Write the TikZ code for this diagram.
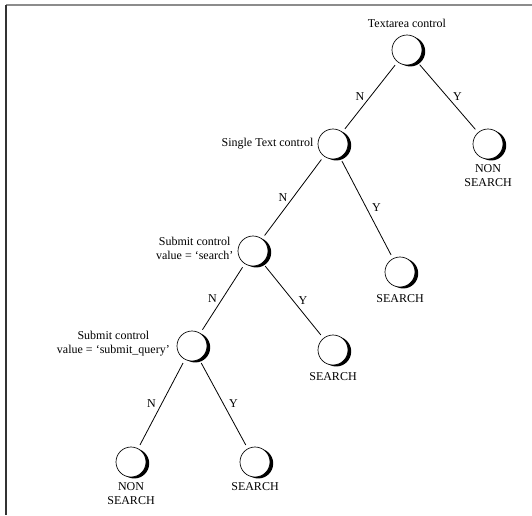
\documentclass[tikz,border=0pt]{standalone}
\usepackage{fontspec}
\setmainfont{Liberation Serif}
\usetikzlibrary{shadows}
\begin{document}
\begin{tikzpicture}[x=0.75pt,y=-0.75pt,
  dec/.style={circle, draw=black, line width=0.5pt, fill=white, minimum size=22.5pt, inner sep=0pt,
    drop shadow={shadow xshift=2.4pt, shadow yshift=-1.1pt, fill=black, opacity=1}},
  lbl/.style={font=\fontsize{9}{10.5}\selectfont, align=center, inner sep=1pt},
  conn/.style={line width=0.6pt, shorten <=3pt, shorten >=3pt},
  yn/.style={font=\fontsize{9}{10.5}\selectfont, inner sep=1pt}]
\useasboundingbox (0,0) rectangle (532,515);
\fill[white] (0,0) rectangle (532,515);
\draw[black!45, line width=1.1pt] (6,5) -- (532,5);
\draw[black!80, line width=1.5pt] (6,5) -- (6,515);

% decision nodes
\node[dec] (A) at (407,50) {};
\node[dec] (B) at (488,144) {};
\node[dec] (C) at (333,144) {};
\node[dec] (D) at (400,272) {};
\node[dec] (E) at (253,251) {};
\node[dec] (F) at (333,350) {};
\node[dec] (G) at (192,346) {};
\node[dec] (H) at (131,462) {};
\node[dec] (I) at (255,462) {};

% labels
\node[lbl, anchor=south] (lA) at ([yshift=4pt]A.north) {Textarea control};
\node[lbl, anchor=north] (lB) at ([yshift=-3pt]B.south) {NON\\SEARCH};
\node[lbl, anchor=east] (lC) at ([xshift=-2pt]C.west) {Single Text control};
\node[lbl, anchor=north] (lD) at ([yshift=-4pt]D.south) {SEARCH};
\node[lbl, anchor=east] (lE) at ([xshift=-2pt,yshift=2pt]E.west) {Submit control\\value = ‘search’};
\node[lbl, anchor=north] (lF) at ([yshift=-4pt]F.south) {SEARCH};
\node[lbl, anchor=east] (lG) at ([xshift=-4pt,yshift=2pt]G.west) {Submit control\\value = ‘submit\_query’};
\node[lbl, anchor=north] (lH) at ([yshift=-3pt]H.south) {NON\\SEARCH};
\node[lbl, anchor=north] (lI) at ([yshift=-3pt]I.south) {SEARCH};

% connectors
\draw[conn] (A) -- node[yn, left=3pt] (n1) {N} (C);
\draw[conn] (A) -- node[yn, right=3pt] (y1) {Y} (B);
\draw[conn] (C) -- node[yn, left=3pt] (n2) {N} (E);
\draw[conn] (C) -- node[yn, right=3pt] (y2) {Y} (D);
\draw[conn] (E) -- node[yn, left=3pt] (n3) {N} (G);
\draw[conn] (E) -- node[yn, right=3pt] (y3) {Y} (F);
\draw[conn] (G) -- node[yn, left=3pt] (n4) {N} (H);
\draw[conn] (G) -- node[yn, right=3pt] (y4) {Y} (I);
\end{tikzpicture}
\end{document}
